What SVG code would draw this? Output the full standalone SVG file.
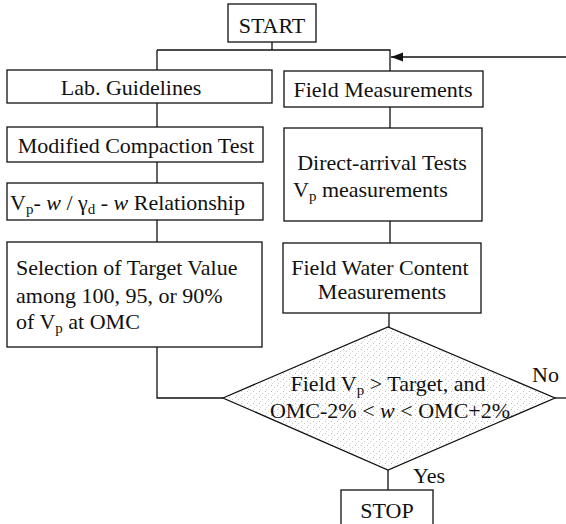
<svg xmlns="http://www.w3.org/2000/svg" width="566" height="524" viewBox="0 0 566 524">
  <style>
    .box { fill: #ffffff; stroke: #111; stroke-width: 1.3; }
    .ln { fill: none; stroke: #111; stroke-width: 1.3; }
    text { font-family: "Liberation Serif", "Times New Roman", serif; font-size: 22px; fill: #111; }
    .c { text-anchor: middle; }
    .it { font-style: italic; }
    .sub { font-size: 15px; }
  </style>
  <defs>
    <pattern id="stipple" width="6" height="6" patternUnits="userSpaceOnUse">
      <rect width="6" height="6" fill="#ffffff"/>
      <rect x="1" y="1" width="1" height="1" fill="#bcbcbc"/>
      <rect x="4" y="3" width="1" height="1" fill="#cccccc"/>
      <rect x="2" y="5" width="1" height="1" fill="#d6d6d6"/>
    </pattern>
    <marker id="arrow" markerWidth="13" markerHeight="10" refX="12" refY="5" orient="auto" markerUnits="userSpaceOnUse">
      <path d="M0,0.5 L12,5 L0,9.5 Z" fill="#111"/>
    </marker>
  </defs>

  <rect width="566" height="524" fill="#ffffff"/>

  <!-- connectors -->
  <g id="connectors">
    <path class="ln" d="M272,42 V50"/>
    <path class="ln" d="M157,50 H390 V71"/>
    <path class="ln" d="M566,57 H391" marker-end="url(#arrow)"/>
    <path class="ln" d="M157,50 V70"/>
    <path class="ln" d="M157,103 V127"/>
    <path class="ln" d="M157,162 V183"/>
    <path class="ln" d="M157,220 V242"/>
    <path class="ln" d="M157,347 V398 H223"/>
    <path class="ln" d="M390,107 V128"/>
    <path class="ln" d="M390,221 V243"/>
    <path class="ln" d="M389,313 V327"/>
    <path class="ln" d="M555,398 H566"/>
    <path class="ln" d="M388,470 V490"/>
  </g>

  <g id="start">
    <rect class="box" x="228" y="4" width="88" height="38"/>
    <text class="c" x="272" y="33">START</text>
  </g>

  <g id="lab-guidelines">
    <rect class="box" x="7" y="70" width="265" height="33"/>
    <text class="c" x="131" y="95">Lab. Guidelines</text>
  </g>

  <g id="compaction-test">
    <rect class="box" x="7" y="127" width="256" height="35"/>
    <text class="c" x="136" y="153">Modified Compaction Test</text>
  </g>

  <g id="relationship">
    <rect class="box" x="7" y="183" width="256" height="37"/>
    <text x="10" y="210">V<tspan class="sub" dy="4">p</tspan><tspan dy="-4">- </tspan><tspan class="it">w</tspan> / γ<tspan class="sub" dy="4">d</tspan><tspan dy="-4"> - </tspan><tspan class="it">w</tspan> Relationship</text>
  </g>

  <g id="target-selection">
    <rect class="box" x="7" y="242" width="255" height="105"/>
    <text x="16" y="275">Selection of Target Value</text>
    <text x="16" y="303">among 100, 95, or 90%</text>
    <text x="16" y="329">of V<tspan class="sub" dy="4">p</tspan><tspan dy="-4"> at OMC</tspan></text>
  </g>

  <g id="field-measurements">
    <rect class="box" x="284" y="71" width="199" height="36"/>
    <text class="c" x="383" y="97">Field Measurements</text>
  </g>

  <g id="direct-arrival">
    <rect class="box" x="284" y="128" width="198" height="93"/>
    <text class="c" x="382" y="170">Direct-arrival Tests</text>
    <text x="293" y="197">V<tspan class="sub" dy="4">p</tspan><tspan dy="-4"> measurements</tspan></text>
  </g>

  <g id="water-content">
    <rect class="box" x="283" y="243" width="198" height="70"/>
    <text class="c" x="380" y="275">Field Water Content</text>
    <text class="c" x="382" y="299">Measurements</text>
  </g>

  <g id="decision">
    <path d="M223,398 L388,327 L555,398 L388,470 Z" fill="url(#stipple)" stroke="#111" stroke-width="1.3"/>
    <text class="c" x="388" y="391">Field V<tspan class="sub" dy="4">p</tspan><tspan dy="-4"> &gt; Target, and</tspan></text>
    <text class="c" x="390" y="418">OMC-2% &lt; <tspan class="it">w</tspan> &lt; OMC+2%</text>
    <text x="532" y="382">No</text>
    <text x="413" y="483">Yes</text>
  </g>

  <g id="stop">
    <rect class="box" x="341" y="490" width="92" height="40"/>
    <text class="c" x="387" y="518">STOP</text>
  </g>
</svg>
